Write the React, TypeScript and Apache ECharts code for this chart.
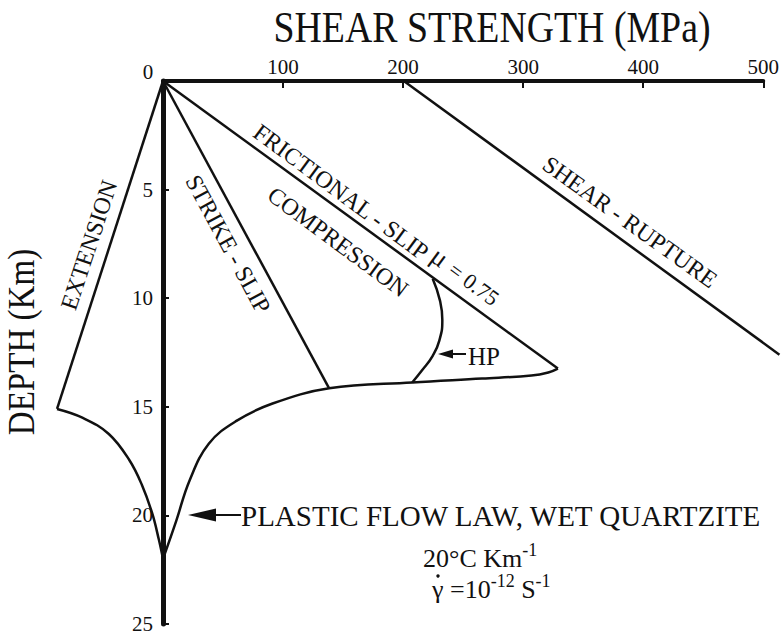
import React, { useEffect, useRef } from "react";
import * as echarts from "echarts";

// Shear strength (MPa) vs depth (km) envelopes
const extensionLine: number[][] = [[0, 0], [-88, 15.1]];
const plasticLeft: number[][] = [
  [-88, 15.1], [-67, 15.5], [-45, 16.25], [-28, 17.45], [-17.5, 18.6], [-9, 19.9], [-3.5, 21.1], [0, 22],
];
const plasticRight: number[][] = [
  [0, 22], [11, 20.25], [22, 18.4], [38, 16.7], [61, 15.65], [91, 14.85], [138, 14.15],
  [207, 13.88], [265, 13.7], [306, 13.56], [320, 13.42], [328, 13.24],
];
const frictionalSlip: number[][] = [[0, 0], [328, 13.24]];
const strikeSlip: number[][] = [[0, 0], [138, 14.15]];
const hpCurve: number[][] = [
  [224, 9.1], [230, 10.1], [232, 11.0], [229.5, 11.95], [224, 12.65], [215, 13.33], [207, 13.88],
];
const shearRupture: number[][] = [[200, 0], [512, 12.6]];

const xRange = [0, 500];
const yRange = [0, 25];
const xTickStep = 100;
const yTickStep = 5;

const FONT = "'Liberation Serif', 'Times New Roman', serif";
const INK = "#111";

const WIDTH = 782;
const HEIGHT = 636;
const GRID_LEFT = 163;
const GRID_RIGHT = 17;
const GRID_TOP = 81;
const GRID_BOTTOM = 12;
const PX_PER_MPA = (WIDTH - GRID_LEFT - GRID_RIGHT) / (xRange[1] - xRange[0]);

// Hidden frame with the same scale, widened so curves may run left of 0 MPa
// and up to the right-hand edge past 500 MPa.
const PLOT_LEFT_MPA = -100;
const plotGridLeft = GRID_LEFT + PLOT_LEFT_MPA * PX_PER_MPA;
const plotMaxMpa = xRange[1] + GRID_RIGHT / PX_PER_MPA;

const lineSeries = (name: string, data: number[][], smooth: boolean | number = false) => ({
  name,
  type: "line",
  xAxisIndex: 1,
  yAxisIndex: 1,
  data,
  smooth,
  symbol: "none",
  clip: false,
  lineStyle: { color: INK, width: 2.5 },
  silent: true,
});

const label = (
  text: string,
  x: number,
  y: number,
  fontSize: number,
  rotationDeg = 0,
  extra: Record<string, any> = {}
) => {
  const { style, ...rest } = extra;
  return {
    type: "text",
    x,
    y,
    rotation: (rotationDeg * Math.PI) / 180,
    ...rest,
    style: {
      text,
      fill: INK,
      fontSize,
      fontFamily: FONT,
      align: "center",
      verticalAlign: "middle",
      ...(style || {}),
    },
  };
};

export default function App() {
  const ref = useRef<HTMLDivElement>(null);

  useEffect(() => {
    if (!ref.current) return;
    const chart = echarts.init(ref.current, null, { renderer: "svg" });
    const supRich = {
      b: { fontSize: 26, fontFamily: FONT, fill: INK, lineHeight: 30, verticalAlign: "bottom" },
      sup: { fontSize: 18, fontFamily: FONT, fill: INK, lineHeight: 18, verticalAlign: "top" },
    };
    const axisLabelStyle = { color: INK, fontSize: 21, fontFamily: FONT };
    chart.setOption({
      animation: false,
      backgroundColor: "#fff",
      grid: [
        { left: GRID_LEFT, right: GRID_RIGHT, top: GRID_TOP, bottom: GRID_BOTTOM },
        { left: plotGridLeft, right: 0, top: GRID_TOP, bottom: GRID_BOTTOM },
      ],
      xAxis: [
        {
          type: "value",
          gridIndex: 0,
          position: "top",
          min: xRange[0],
          max: xRange[1],
          interval: xTickStep,
          axisLine: { onZero: false, lineStyle: { color: INK, width: 4 } },
          axisTick: { inside: true, length: 7, lineStyle: { color: INK, width: 2 } },
          axisLabel: {
            formatter: (v: number) => (v === 0 ? "" : String(v)),
            margin: 4,
            ...axisLabelStyle,
          },
          splitLine: { show: false },
        },
        { type: "value", gridIndex: 1, min: PLOT_LEFT_MPA, max: plotMaxMpa, show: false },
      ],
      yAxis: [
        {
          type: "value",
          gridIndex: 0,
          inverse: true,
          min: yRange[0],
          max: yRange[1],
          interval: yTickStep,
          axisLine: { onZero: false, lineStyle: { color: INK, width: 5 } },
          axisTick: { inside: true, length: 6, lineStyle: { color: INK, width: 2 } },
          axisLabel: {
            formatter: (v: number) => (v === 0 ? "" : String(v)),
            margin: 10,
            ...axisLabelStyle,
          },
          splitLine: { show: false },
        },
        { type: "value", gridIndex: 1, inverse: true, min: yRange[0], max: yRange[1], show: false },
      ],
      series: [
        lineSeries("Extension", extensionLine),
        lineSeries("Plastic flow (left)", plasticLeft, 0.4),
        lineSeries("Plastic flow (right)", plasticRight, 0.4),
        lineSeries("Frictional slip", frictionalSlip),
        lineSeries("Strike slip", strikeSlip),
        lineSeries("HP", hpCurve, 0.5),
        lineSeries("Shear rupture", shearRupture),
      ],
      graphic: [
        label("SHEAR STRENGTH (MPa)", 492, 27, 44, 0, { scaleX: 0.86 }),
        label("DEPTH (Km)", 21, 342, 38, 90, { scaleX: 0.87 }),
        label("0", 148, 72, 21),
        label("EXTENSION", 89, 245, 24, 71.7),
        label("STRIKE - SLIP", 228, 244, 24, -61.7),
        label("COMPRESSION", 338, 242, 24, -36.5),
        label("FRICTIONAL - SLIP", 341, 192, 24, -36.5),
        label("μ", 440, 257, 27, -36.5),
        label("= 0.75", 474, 284, 22, -36.5),
        label("SHEAR - RUPTURE", 630, 222, 24, -35.6),
        // HP pointer
        { type: "polygon", shape: { points: [[438, 354], [453, 349.5], [453, 358.5]] }, style: { fill: INK } },
        { type: "line", shape: { x1: 452, y1: 354, x2: 466, y2: 354 }, style: { stroke: INK, lineWidth: 2 } },
        label("HP", 468, 356, 25, 0, { style: { align: "left" } }),
        // plastic flow pointer
        { type: "polygon", shape: { points: [[188, 515], [216, 508.5], [216, 521.5]] }, style: { fill: INK } },
        { type: "line", shape: { x1: 215, y1: 515, x2: 241, y2: 515 }, style: { stroke: INK, lineWidth: 2 } },
        label("PLASTIC FLOW LAW, WET QUARTZITE", 241, 516, 29, 0, { style: { align: "left" } }),
        label("{b|20°C Km}{sup|-1}", 423, 556, 26, 0, { style: { rich: supRich, align: "left" } }),
        label("{b|γ =10}{sup|-12}{b| S}{sup|-1}", 432, 587, 26, 0, { style: { rich: supRich, align: "left" } }),
        // strain-rate dot over gamma
        { type: "circle", shape: { cx: 438, cy: 576, r: 1.7 }, style: { fill: INK } },
      ],
    });
    return () => chart.dispose();
  }, []);

  return (
    <div
      ref={ref}
      style={{ position: "fixed", left: 0, top: 0, width: WIDTH, height: HEIGHT, background: "#fff" }}
    />
  );
}
